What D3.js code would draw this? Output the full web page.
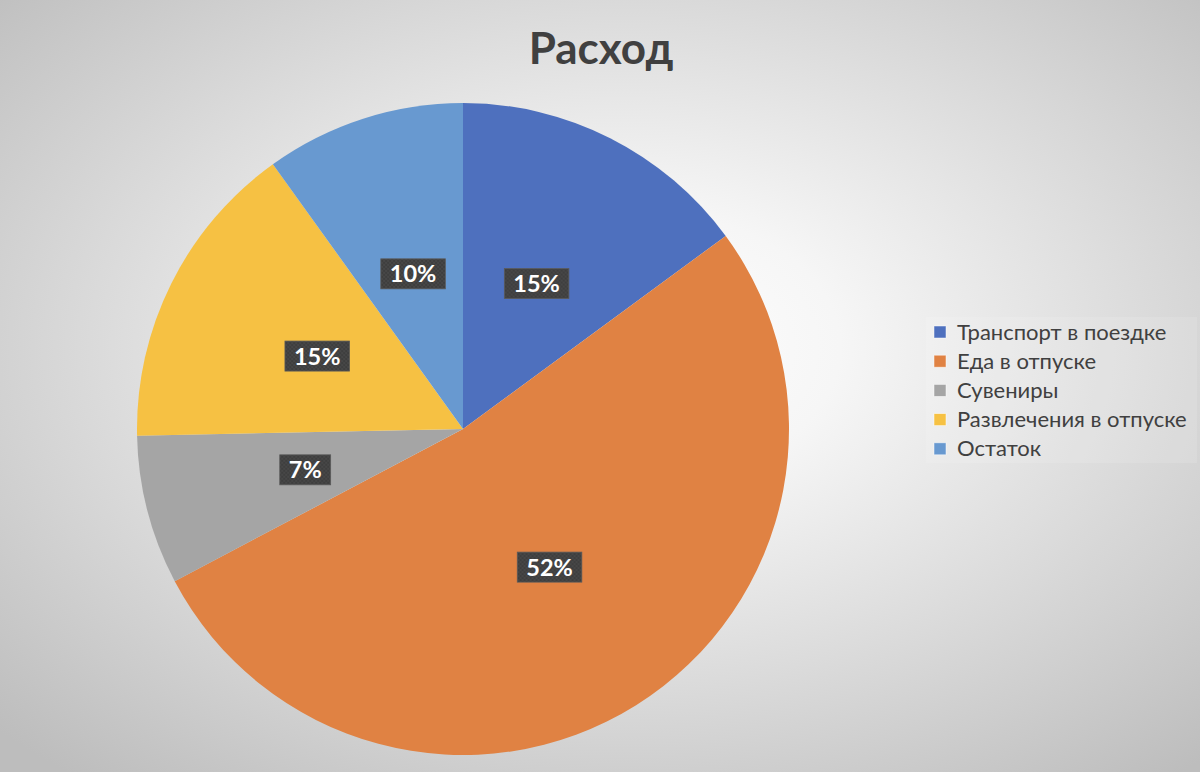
<!DOCTYPE html>
<html><head><meta charset="utf-8">
<script src="https://cdn.jsdelivr.net/npm/d3@7"></script>
<style>html,body{margin:0;padding:0;}svg{display:block;}</style>
</head><body>
<svg id="c" width="1200" height="772"></svg>
<script>
const categories = ["Транспорт в поездке","Еда в отпуске","Сувениры","Развлечения в отпуске","Остаток"];
const values = [14.9, 52.3, 7.4, 15.4, 9.9];
const colors = ["#4e70be","#e08243","#a5a5a5","#f6c143","#6899d0"];
const title = "Расход";

const W = 1200, H = 772;
const svg = d3.select("#c");
const defs = svg.append("defs");
const rg = defs.append("radialGradient").attr("id","bg")
  .attr("cx","0.52").attr("cy","0.45").attr("r","0.72");
rg.append("stop").attr("offset","0").attr("stop-color","#ffffff");
rg.append("stop").attr("offset","0.25").attr("stop-color","#f6f6f6");
rg.append("stop").attr("offset","1").attr("stop-color","#bdbdbd");
svg.append("rect").attr("width",W).attr("height",H).attr("fill","url(#bg)");

const pat = defs.append("pattern").attr("id","lbl").attr("width",4).attr("height",4).attr("patternUnits","userSpaceOnUse");
pat.append("rect").attr("width",4).attr("height",4).attr("fill","#3e3e3e");
pat.append("rect").attr("x",0).attr("y",0).attr("width",2).attr("height",2).attr("fill","#474747");
pat.append("rect").attr("x",2).attr("y",2).attr("width",2).attr("height",2).attr("fill","#474747");

svg.append("text").attr("x",601).attr("y",64).attr("text-anchor","middle")
  .attr("font-family","Lato, 'Open Sans', sans-serif").attr("font-weight","bold")
  .attr("font-size",44).attr("fill","#404040").text(title);

const cx = 463, cy = 429, R = 326;
const total = d3.sum(values);
const pie = d3.pie().sort(null).value(d=>d)(values);
const arc = d3.arc().innerRadius(0).outerRadius(R);
const lab = d3.arc().innerRadius(R*0.5).outerRadius(R*0.5);
const g = svg.append("g").attr("transform",`translate(${cx},${cy})`);
g.selectAll("path").data(pie).join("path").attr("d",arc).attr("fill",(d,i)=>colors[i]);

const lg = g.selectAll("g.l").data(pie).join("g").attr("class","l")
  .attr("transform",d=>{const c=lab.centroid(d);return `translate(${c[0]},${c[1]})`;});
lg.each(function(d){
  const s = d3.select(this);
  const txt = Math.round(d.value/total*100)+"%";
  const t = s.append("text").attr("text-anchor","middle").attr("y",8.5)
    .attr("font-family","Lato, 'Open Sans', sans-serif").attr("font-weight","bold")
    .attr("font-size",23.5).attr("fill","#ffffff").text(txt);
  const w = t.node().getComputedTextLength();
  s.insert("rect","text").attr("x",-w/2-9).attr("y",-15).attr("width",w+18).attr("height",30)
    .attr("fill","url(#lbl)").attr("stroke","#5a5a5a").attr("stroke-width",0.8);
});

const leg = svg.append("g");
leg.append("rect").attr("x",926).attr("y",317).attr("width",271).attr("height",146)
  .attr("fill","#ffffff").attr("fill-opacity",0.12);
const li = leg.selectAll("g").data(categories).join("g")
  .attr("transform",(d,i)=>`translate(934,${332 + i*29.2})`);
li.append("rect").attr("x",0).attr("y",-6).attr("width",12).attr("height",12)
  .attr("fill",(d,i)=>colors[i]).attr("stroke","#ffffff").attr("stroke-opacity",0.6).attr("stroke-width",0.8);
li.append("text").attr("x",23).attr("y",7.5)
  .attr("font-family","Lato, 'Open Sans', sans-serif").attr("font-size",22).attr("fill","#404040")
  .text(d=>d);
</script>
</body></html>
